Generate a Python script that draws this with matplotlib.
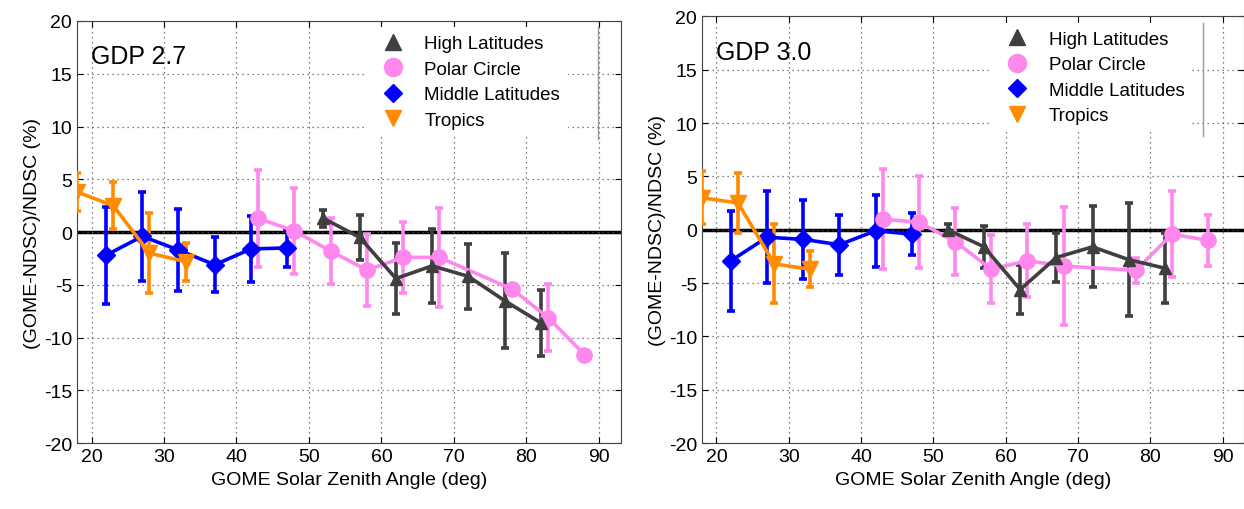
import numpy as np
import matplotlib.pyplot as plt
from matplotlib.lines import Line2D

plt.rcParams['font.family'] = ['Liberation Sans', 'DejaVu Sans']
plt.rcParams['axes.unicode_minus'] = False

# ---- GDP 2.7 ----
x_trop = [18, 23, 28, 33]
x_mid = [22, 27, 32, 37, 42, 47]
x_pol = [43, 48, 53, 58, 63, 68, 78, 83, 88]
x_high = [52, 57, 62, 67, 72, 77, 82]

trop_27 = [3.8, 2.5, -2.0, -2.8]
trop_27_err = [1.8, 2.2, 3.8, 1.8]
mid_27 = [-2.2, -0.4, -1.7, -3.1, -1.6, -1.5]
mid_27_err = [4.6, 4.2, 3.9, 2.6, 3.1, 1.8]
pol_27 = [1.3, 0.1, -1.8, -3.6, -2.4, -2.4, -5.4, -8.1, -11.6]
pol_27_err = [4.6, 4.1, 3.1, 3.4, 3.4, 4.7, 0.4, 3.2, 0.0]
high_27 = [1.3, -0.5, -4.4, -3.2, -4.2, -6.5, -8.6]
high_27_err = [0.8, 2.1, 3.4, 3.5, 3.1, 4.5, 3.1]

# ---- GDP 3.0 ----
trop_30 = [3.0, 2.5, -3.2, -3.7]
trop_30_err = [2.5, 2.8, 3.7, 1.7]
mid_30 = [-2.9, -0.7, -0.9, -1.4, -0.1, -0.4]
mid_30_err = [4.7, 4.3, 3.7, 2.8, 3.4, 2.0]
pol_30 = [1.0, 0.7, -1.1, -3.7, -2.9, -3.4, -3.8, -0.4, -1.0]
pol_30_err = [4.7, 4.3, 3.1, 3.2, 3.4, 5.5, 1.2, 4.0, 2.4]
high_30 = [0.0, -1.6, -5.6, -2.6, -1.6, -2.8, -3.6]
high_30_err = [0.5, 2.0, 2.3, 2.3, 3.8, 5.3, 3.3]

c_high = '#3f3f3f'
c_pol = '#ff88ee'
c_mid = '#0000ff'
c_trop = '#ff8c00'

fig = plt.figure(figsize=(12.44, 5.1), dpi=100)
ax1 = fig.add_axes([0.0619, 0.129, 0.437, 0.828])
ax2 = fig.add_axes([0.5643, 0.129, 0.436, 0.837])


def panel(ax, title, high, high_e, pol, pol_e, mid, mid_e, trop, trop_e, vline_x):
    ax.axhline(0, color='k', lw=2.5, zorder=1)
    kw = dict(lw=2.6, elinewidth=2.6, capsize=3, capthick=2.6, zorder=3)
    ax.errorbar(x_mid, mid, yerr=mid_e, color=c_mid, marker='D', ms=9, **kw)
    ax.errorbar(x_trop, trop, yerr=trop_e, color=c_trop, marker='v', ms=11, **kw)
    ax.errorbar(x_pol, pol, yerr=pol_e, color=c_pol, marker='o', ms=11, **kw)
    ax.errorbar(x_high, high, yerr=high_e, color=c_high, marker='^', ms=9, **kw)

    ax.set_xlim(18, 93)
    ax.set_ylim(-20, 20)
    ax.set_xticks([20, 30, 40, 50, 60, 70, 80, 90])
    ax.set_yticks([-20, -15, -10, -5, 0, 5, 10, 15, 20])
    ax.grid(True, ls=(0, (1, 3)), color='#555555', lw=0.9)
    ax.tick_params(direction='in', top=True, right=True, labelsize=14, length=4)
    ax.set_xlabel('GOME Solar Zenith Angle (deg)', fontsize=14, labelpad=4)
    ax.set_ylabel('(GOME-NDSC)/NDSC (%)', fontsize=14, labelpad=2)
    for s in ax.spines.values():
        s.set_color('#444444')
    ax.text(0.025, 0.945, title, transform=ax.transAxes, fontsize=18,
            va='top', ha='left')

    handles = [
        Line2D([], [], ls='none', marker='^', ms=11, color=c_high),
        Line2D([], [], ls='none', marker='o', ms=13, color=c_pol),
        Line2D([], [], ls='none', marker='D', ms=9, color=c_mid),
        Line2D([], [], ls='none', marker='v', ms=12, color=c_trop),
    ]
    labels = ['High Latitudes', 'Polar Circle', 'Middle Latitudes', 'Tropics']
    leg = ax.legend(handles, labels, loc='upper left', bbox_to_anchor=(0.52, 1.0),
                    frameon=True, fontsize=13.5, handletextpad=0.7,
                    labelspacing=0.45, borderaxespad=0.35)
    leg.get_frame().set_edgecolor('none')
    leg.get_frame().set_facecolor('white')
    leg.get_frame().set_alpha(1)
    ax.plot([vline_x, vline_x], [0.72, 0.985], transform=ax.transAxes,
            color='#999999', lw=1, zorder=10)


panel(ax1, 'GDP 2.7', high_27, high_27_err, pol_27, pol_27_err,
      mid_27, mid_27_err, trop_27, trop_27_err, 0.958)
panel(ax2, 'GDP 3.0', high_30, high_30_err, pol_30, pol_30_err,
      mid_30, mid_30_err, trop_30, trop_30_err, 0.924)

fig.savefig('out.png', dpi=100)
